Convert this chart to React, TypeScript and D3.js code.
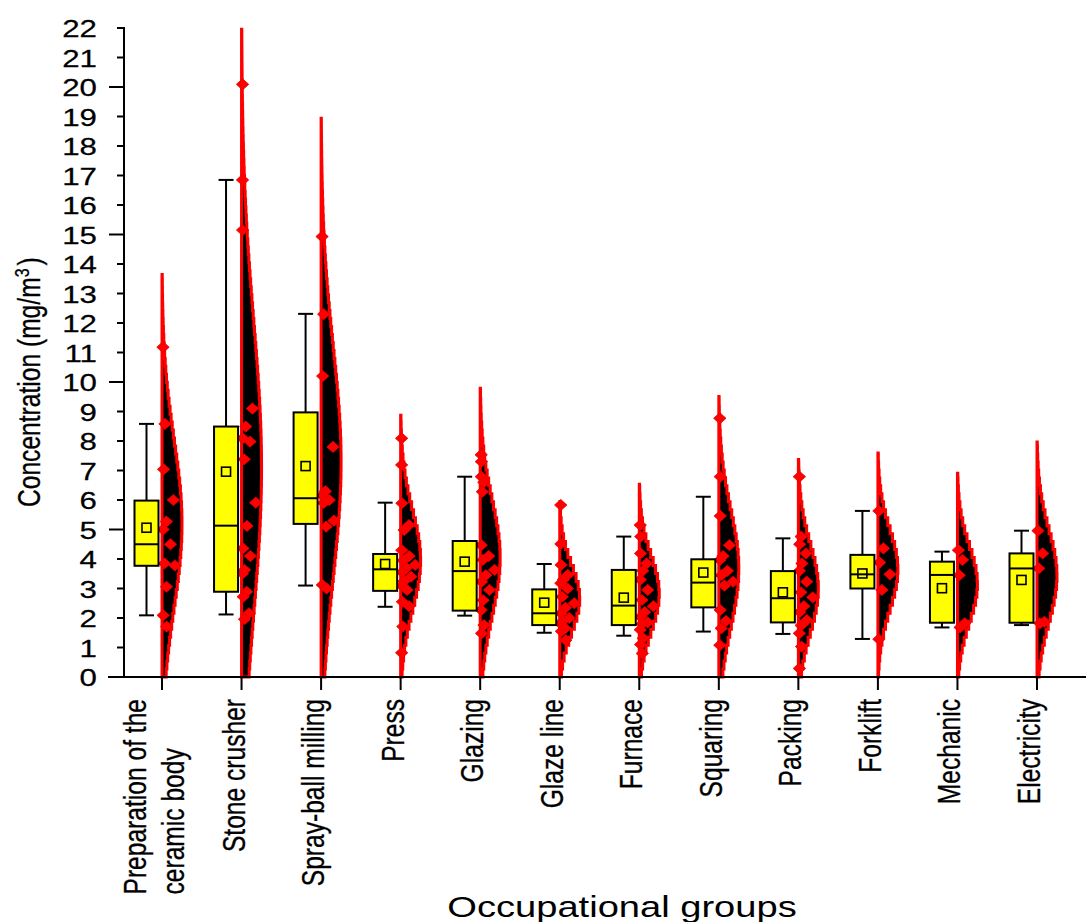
import React from 'react';
import * as d3 from 'd3';

// ---------- data ----------
const categories = [
  'Preparation of the\nceramic body',
  'Stone crusher',
  'Spray-ball milling',
  'Press',
  'Glazing',
  'Glaze line',
  'Furnace',
  'Squaring',
  'Packing',
  'Forklift',
  'Mechanic',
  'Electricity',
];

const lowerWhisker = [2.09, 2.12, 3.1, 2.38, 2.08, 1.5, 1.4, 1.54, 1.46, 1.29, 1.68, 1.76];
const quartile1 = [3.77, 2.89, 5.19, 2.92, 2.25, 1.76, 1.76, 2.36, 1.85, 3.0, 1.84, 1.84];
const medians = [4.5, 5.13, 6.06, 3.65, 3.59, 2.16, 2.42, 3.2, 2.67, 3.48, 3.46, 3.68];
const quartile3 = [5.98, 8.49, 8.97, 4.17, 4.61, 2.97, 3.63, 3.99, 3.59, 4.14, 3.91, 4.19];
const upperWhisker = [8.58, 16.85, 12.31, 5.91, 6.79, 3.83, 4.76, 6.11, 4.7, 5.63, 4.25, 4.96];
const means = [5.06, 6.96, 7.15, 3.83, 3.91, 2.52, 2.69, 3.54, 2.87, 3.51, 3.01, 3.29];
// standard deviation of the fitted normal distribution curve
const curveSD = [2.86, 5.0, 3.93, 1.68, 1.96, 1.14, 1.28, 1.99, 1.5, 1.36, 1.3, 1.56];

const observations = [
  [11.18, 8.58, 7.04, 6.0, 5.27, 5.0, 4.5, 3.85, 3.78, 3.06, 2.09, 1.71],
  [20.09, 16.85, 15.15, 9.1, 8.49, 8.09, 7.98, 7.38, 5.91, 5.12, 4.36, 4.1, 3.63, 3.51, 2.89, 2.72, 2.16, 1.96],
  [14.93, 12.3, 10.2, 7.8, 6.3, 6.15, 6.0, 5.9, 5.3, 5.1, 3.12, 3.0],
  [8.09, 7.19, 5.89, 5.15, 4.98, 4.3, 4.1, 3.95, 3.8, 3.7, 3.55, 3.4, 3.25, 3.1, 2.95, 2.55, 2.4, 1.71, 0.82],
  [7.53, 7.3, 6.79, 6.6, 6.28, 4.47, 4.1, 3.97, 3.63, 3.45, 3.23, 2.95, 2.6, 2.27, 1.76, 1.48],
  [5.83, 4.51, 3.8, 3.46, 3.3, 3.18, 3.0, 2.72, 2.5, 2.35, 2.16, 2.0, 1.9, 1.8, 1.65, 1.55, 1.25],
  [5.15, 4.76, 4.19, 3.85, 3.6, 3.3, 2.95, 2.61, 2.4, 2.2, 2.04, 1.85, 1.8, 1.6, 1.31, 1.1, 0.8],
  [8.77, 6.79, 5.46, 4.47, 4.1, 3.97, 3.6, 3.45, 3.23, 3.1, 2.27, 1.9, 1.65, 1.08],
  [6.79, 4.76, 4.5, 4.19, 3.85, 3.6, 3.23, 2.87, 2.7, 2.4, 2.2, 1.93, 1.75, 1.48, 1.03, 0.29],
  [5.63, 4.36, 3.88, 3.48, 2.95, 1.28],
  [4.3, 3.97, 3.45, 1.82, 1.68],
  [4.96, 4.19, 3.68, 1.87, 1.82],
];

const yTickValues = d3.range(0, 23);
const xTitle = 'Occupational groups';
const yTitle = 'Concentration (mg/m';

// ---------- layout ----------
const W = 1086;
const H = 922;
const SX = 1.27; // horizontal stretch of the text in the reference
const FONT = '"Liberation Sans", Arial, Helvetica, sans-serif';
const TICK_FS = 24.6;
const CURVE_MAX_W = 20;

function measure(text: string, size: number): number {
  try {
    const c = document.createElement('canvas');
    const ctx = c.getContext('2d');
    if (ctx) {
      ctx.font = `${size}px "Liberation Sans", Arial, sans-serif`;
      return ctx.measureText(text).width;
    }
  } catch (e) {
    /* ignore */
  }
  return text.length * size * 0.5;
}

export default function App() {
  const y = d3.scaleLinear().domain([0, 22]).range([677, 28]);
  const x = d3.scalePoint<string>().domain(categories).range([162, 1037]);
  const axisX = 124;
  const axisY = y(0);

  const stepLine = d3.line<[number, number]>().curve(d3.curveStepBefore);
  const diamond = 'M0,-5.6L6.2,0L0,5.6L-6.2,0Z';

  return (
    <svg
      width={W}
      height={H}
      style={{ position: 'absolute', left: 0, top: 0, background: '#fff' }}
      fontFamily={FONT}
    >
      <rect x={0} y={0} width={W} height={H} fill="#fff" />

      {categories.map((cat, i) => {
        const cx = x(cat) as number;
        const m = means[i];
        const sd = curveSD[i];
        const top = Math.min(m + 3 * sd, 22);
        const width = (v: number) => CURVE_MAX_W * Math.exp(-0.5 * ((v - m) / sd) ** 2);
        const vals = d3.range(0, top, 0.27).concat([top]);
        const pts: [number, number][] = [[cx, y(0)], ...vals.map((v) => [cx + width(v), y(v)] as [number, number]), [cx, y(top)]];
        const d = (stepLine(pts) || '') + 'Z';
        const bc = cx - 15.5;
        const bw = 24;
        return (
          <g key={cat}>
            {/* distribution curve */}
            <path d={d} fill="#000" stroke="#ff0000" strokeWidth={3} strokeLinejoin="miter" />
            {/* data points */}
            {observations[i].map((v, j) => {
              const f = (j * 0.618034) % 1;
              const px = cx + 1 + f * f * Math.max(0, width(v) - 4) * 0.95;
              return (
                <path key={j} d={diamond} transform={`translate(${px},${y(v)})`} fill="#ff0000" stroke="#e80000" strokeWidth={0.8} />
              );
            })}
            {/* whiskers */}
            <line x1={bc} x2={bc} y1={y(upperWhisker[i])} y2={y(quartile3[i])} stroke="#000" strokeWidth={2} />
            <line x1={bc} x2={bc} y1={y(quartile1[i])} y2={y(lowerWhisker[i])} stroke="#000" strokeWidth={2} />
            <line x1={bc - 7.5} x2={bc + 7.5} y1={y(upperWhisker[i])} y2={y(upperWhisker[i])} stroke="#000" strokeWidth={2} />
            <line x1={bc - 7.5} x2={bc + 7.5} y1={y(lowerWhisker[i])} y2={y(lowerWhisker[i])} stroke="#000" strokeWidth={2} />
            {/* box */}
            <rect
              x={bc - bw / 2}
              y={y(quartile3[i])}
              width={bw}
              height={y(quartile1[i]) - y(quartile3[i])}
              fill="#ffff00"
              stroke="#000"
              strokeWidth={2}
            />
            <line x1={bc - bw / 2} x2={bc + bw / 2} y1={y(medians[i])} y2={y(medians[i])} stroke="#000" strokeWidth={2} />
            <rect x={bc - 4.5} y={y(m) - 4.5} width={9} height={9} fill="none" stroke="#000" strokeWidth={1.6} />
          </g>
        );
      })}

      {/* y axis */}
      <line x1={axisX} x2={axisX} y1={y(22) - 1} y2={axisY} stroke="#000" strokeWidth={2} />
      {yTickValues.map((t) => {
        const major = t % 5 === 0;
        return (
          <g key={t}>
            <line x1={axisX - (major ? 15 : 7)} x2={axisX} y1={y(t)} y2={y(t)} stroke="#000" strokeWidth={2} />
            <text
              transform={`translate(97,${y(t) + 9}) scale(${SX},1)`}
              textAnchor="end"
              fontSize={TICK_FS}
              fill="#000"
              stroke="#000"
              strokeWidth={0.25}
            >
              {t}
            </text>
          </g>
        );
      })}

      {/* x axis */}
      <line x1={108} x2={W} y1={axisY} y2={axisY} stroke="#000" strokeWidth={2} />
      {categories.map((cat) => {
        const cx = x(cat) as number;
        const lines = cat.split('\n');
        const n = lines.length;
        const maxLen = Math.max(...lines.map((l) => measure(l, TICK_FS)));
        const yStart = 699 + maxLen;
        return (
          <g key={'xt' + cat}>
            <line x1={cx} x2={cx} y1={axisY} y2={axisY + 13} stroke="#000" strokeWidth={2} />
            {lines.map((l, j) => (
              <text
                key={j}
                transform={`translate(${cx + 3 + (j - (n - 1) / 2) * 38},${yStart}) scale(${SX},1) rotate(-90)`}
                textAnchor="start"
                fontSize={TICK_FS}
                fill="#000"
                stroke="#000"
                strokeWidth={0.25}
              >
                {l}
              </text>
            ))}
          </g>
        );
      })}

      {/* axis titles */}
      <text
        transform={`translate(40,507) scale(${SX},1) rotate(-90)`}
        textAnchor="start"
        fontSize={TICK_FS}
        fill="#000"
        stroke="#000"
        strokeWidth={0.25}
      >
        {yTitle}
        <tspan dy={-9} fontSize={16}>3</tspan>
        <tspan dy={9} dx={3}>)</tspan>
      </text>
      <text transform={`translate(622,917) scale(${SX},1)`} textAnchor="middle" fontSize={30} fill="#000">
        {xTitle}
      </text>
    </svg>
  );
}
